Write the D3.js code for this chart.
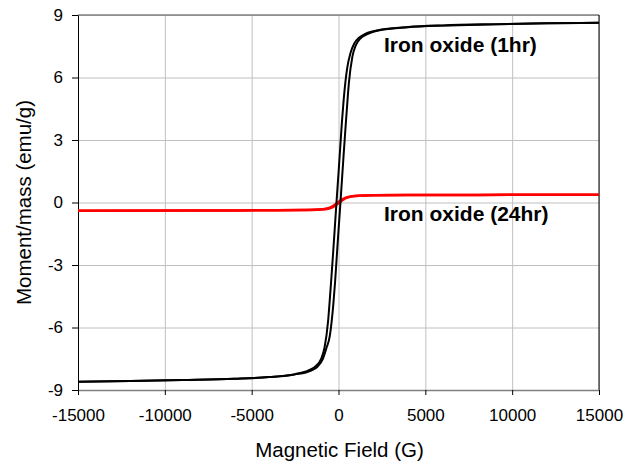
<!DOCTYPE html>
<html>
<head>
<meta charset="utf-8">
<script src="https://cdn.jsdelivr.net/npm/d3@7"></script>
<style>
  body { margin: 0; background: #fff; }
  text { font-family: "Liberation Sans", Arial, sans-serif; }
</style>
</head>
<body>
<script>
// field (G) vs moment/mass (emu/g)
let oneHrDown = [[15000, 8.63], [12000, 8.6], [9000, 8.56], [6000, 8.5], [4000, 8.42], [2500, 8.3],
  [1600, 8.12], [1200, 7.92], [900, 7.62], [700, 7.2], [500, 6.45], [400, 5.8], [300, 4.95],
  [200, 3.9], [100, 2.65], [0, 1.4], [-100, 0.2], [-200, -1.05], [-300, -2.3], [-400, -3.5],
  [-500, -4.65], [-600, -5.7], [-800, -6.95], [-1000, -7.5], [-1300, -7.85], [-1700, -8.05],
  [-2500, -8.24], [-4000, -8.38], [-6000, -8.46], [-9000, -8.52], [-12000, -8.57], [-15000, -8.6]]

let oneHrUp = [[-15000, -8.6], [-12000, -8.57], [-9000, -8.52], [-6000, -8.46], [-4000, -8.38],
  [-2500, -8.25], [-1600, -8.08], [-1200, -7.87], [-900, -7.5], [-700, -7.0], [-500, -6.4],
  [-400, -5.75], [-300, -4.9], [-200, -3.85], [-100, -2.6], [0, -1.35], [100, -0.15], [200, 1.1],
  [300, 2.35], [400, 3.55], [500, 4.7], [600, 5.75], [800, 7.0], [1000, 7.55], [1300, 7.9],
  [1700, 8.1], [2500, 8.29], [4000, 8.41], [6000, 8.49], [9000, 8.55], [12000, 8.6], [15000, 8.63]]

let dayDown = [[15000, 0.37], [8000, 0.365], [4000, 0.36], [2000, 0.35], [1200, 0.33], [800, 0.3],
  [500, 0.25], [300, 0.19], [150, 0.12], [0, 0.03], [-150, -0.07], [-300, -0.16], [-500, -0.25],
  [-800, -0.31], [-1200, -0.34], [-2000, -0.36], [-4000, -0.375], [-8000, -0.385], [-15000, -0.395]]

let dayUp = [[-15000, -0.395], [-8000, -0.385], [-4000, -0.375], [-2000, -0.365], [-1200, -0.35],
  [-800, -0.325], [-500, -0.28], [-300, -0.21], [-150, -0.13], [0, -0.04], [150, 0.06], [300, 0.15],
  [500, 0.23], [800, 0.3], [1200, 0.33], [2000, 0.35], [4000, 0.36], [8000, 0.365], [15000, 0.37]]

let xTicks = [-15000, -10000, -5000, 0, 5000, 10000, 15000]
let yTicks = [-9, -6, -3, 0, 3, 6, 9]

let width = 635, height = 463
let mLeft = 78, mRight = 599, mTop = 15, mBottom = 390

let svg = d3.select("body").append("svg")
    .attr("width", width)
    .attr("height", height)

let x = d3.scaleLinear().domain([-15000, 15000]).range([mLeft, mRight])
let y = d3.scaleLinear().domain([-9, 9]).range([mBottom, mTop])

let fmt = d => String(d)  // plain hyphen minus, no thousands separator

// grid
svg.append("g")
    .attr("transform", `translate(0,${mBottom})`)
    .call(d3.axisBottom(x).tickValues(xTicks).tickSize(-(mBottom - mTop)).tickFormat(""))
    .call(g => g.select(".domain").remove())
    .selectAll("line").attr("stroke", "#c0c0c0")

svg.append("g")
    .attr("transform", `translate(${mLeft},0)`)
    .call(d3.axisLeft(y).tickValues(yTicks).tickSize(-(mRight - mLeft)).tickFormat(""))
    .call(g => g.select(".domain").remove())
    .selectAll("line").attr("stroke", "#c0c0c0")

// frame
svg.append("line").attr("x1", mLeft).attr("x2", mRight).attr("y1", mTop).attr("y2", mTop)
    .attr("stroke", "#808080").attr("stroke-width", 1.5)
svg.append("line").attr("x1", mRight).attr("x2", mRight).attr("y1", mTop).attr("y2", mBottom)
    .attr("stroke", "#000")

// axes
let xAxis = svg.append("g")
    .attr("transform", `translate(0,${mBottom})`)
    .call(d3.axisBottom(x).tickValues(xTicks).tickFormat(fmt).tickSize(5).tickSizeOuter(0).tickPadding(14))
xAxis.select(".domain").attr("stroke", "#808080").attr("stroke-width", 1.5)
xAxis.selectAll("line").attr("stroke", "#000")
xAxis.selectAll("text").attr("font-size", 17).attr("fill", "#000")
    .attr("font-family", "'Liberation Sans', Arial, sans-serif")

let yAxis = svg.append("g")
    .attr("transform", `translate(${mLeft},0)`)
    .call(d3.axisLeft(y).tickValues(yTicks).tickFormat(fmt).tickSize(6).tickSizeOuter(0).tickPadding(9))
yAxis.select(".domain").attr("stroke", "#000")
yAxis.selectAll("line").attr("stroke", "#000")
yAxis.selectAll("text").attr("font-size", 17).attr("fill", "#000")
    .attr("font-family", "'Liberation Sans', Arial, sans-serif")

// curves
let line = d3.line()
    .x(d => x(d[0]))
    .y(d => y(d[1]))
    .curve(d3.curveMonotoneX)

let series = [
  {pts: dayDown, color: "#ff0000", w: 2.5},
  {pts: dayUp, color: "#ff0000", w: 2.5},
  {pts: oneHrDown, color: "#000", w: 2},
  {pts: oneHrUp, color: "#000", w: 2}
]

svg.selectAll("path.curve")
    .data(series)
    .enter()
    .append("path")
    .attr("class", "curve")
    .attr("d", d => line(d.pts.slice().sort((a, b) => a[0] - b[0])))
    .attr("fill", "none")
    .attr("stroke", d => d.color)
    .attr("stroke-width", d => d.w)

// labels
svg.append("text").attr("x", 384).attr("y", 52)
    .attr("font-size", 21).attr("font-weight", "bold")
    .text("Iron oxide (1hr)")
svg.append("text").attr("x", 384).attr("y", 221)
    .attr("font-size", 21).attr("font-weight", "bold")
    .text("Iron oxide (24hr)")

svg.append("text")
    .attr("x", (mLeft + mRight) / 2 + 1).attr("y", 457)
    .attr("text-anchor", "middle")
    .attr("font-size", 20.5)
    .text("Magnetic Field (G)")

svg.append("text")
    .attr("transform", `translate(31,${(mTop + mBottom) / 2}) rotate(-90)`)
    .attr("text-anchor", "middle")
    .attr("font-size", 20.5)
    .text("Moment/mass (emu/g)")
</script>
</body>
</html>
